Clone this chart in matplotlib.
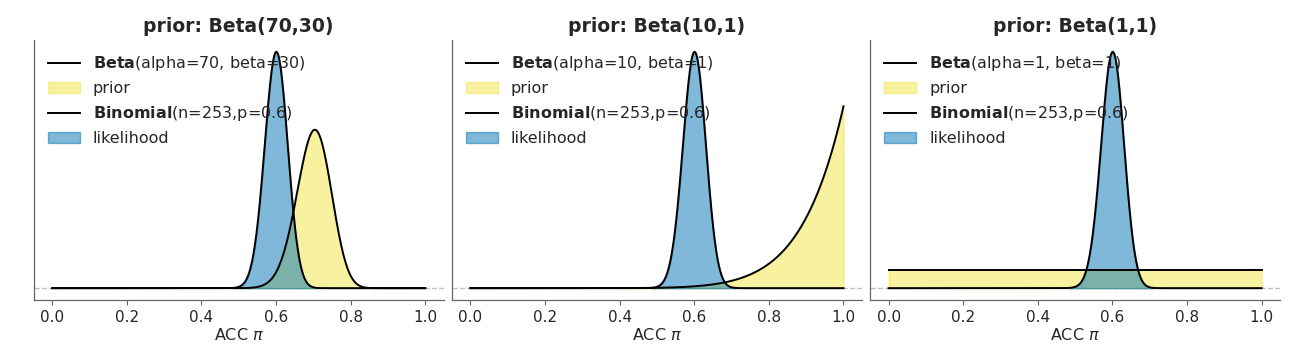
import math

import matplotlib
matplotlib.use("Agg")
import matplotlib.pyplot as plt
import numpy as np

# priors shown in the three panels
prior_alpha = [70, 10, 1]
prior_beta = [30, 1, 1]
titles = ["prior: Beta(70,30)", "prior: Beta(10,1)", "prior: Beta(1,1)"]

# binomial likelihood
n_trials = 253
p_success = 0.6

x_ticks = [0.0, 0.2, 0.4, 0.6, 0.8, 1.0]
x_label = r"ACC $\pi$"

PRIOR_COLOR = "#F0E442"
LIK_COLOR = "#0072B2"
TEXT_COLOR = "#262626"


def beta_pdf(x, a, b):
    x = np.asarray(x, dtype=float)
    logc = math.lgamma(a + b) - math.lgamma(a) - math.lgamma(b)
    with np.errstate(divide="ignore", invalid="ignore"):
        y = np.exp(logc + (a - 1) * np.log(x) + (b - 1) * np.log1p(-x))
    if a == 1:
        y = np.where(x == 0, np.exp(logc + (b - 1) * np.log1p(-x)), y)
    if b == 1:
        y = np.where(x == 1, np.exp(logc + (a - 1) * np.log(np.where(x == 0, 1, x))), y)
    return np.nan_to_num(y)


def beta_ppf(q, a, b):
    # numeric inverse cdf on a fine grid
    grid = np.linspace(0, 1, 200001)
    pdf = beta_pdf(grid, a, b)
    cdf = np.cumsum(pdf)
    cdf = cdf / cdf[-1]
    return float(np.interp(q, cdf, grid))


plt.rcParams["font.family"] = ["DejaVu Sans"]
plt.rcParams["text.color"] = TEXT_COLOR
plt.rcParams["axes.labelcolor"] = TEXT_COLOR
plt.rcParams["xtick.color"] = "0.4"
plt.rcParams["xtick.labelcolor"] = TEXT_COLOR

fig, axes = plt.subplots(1, 3, figsize=(12.9, 3.48), dpi=100, sharey=False)
fig.subplots_adjust(left=0.026, right=0.9925, top=0.885, bottom=0.138, wspace=0.019)

x = np.linspace(0, 1, 1000)
k = round(n_trials * p_success)
lik_a, lik_b = k + 1, n_trials - k + 1

for ax, a, b, title in zip(axes, prior_alpha, prior_beta, titles):
    # prior
    y_prior = beta_pdf(x, a, b)
    ax.plot(x, y_prior, color="black", lw=1.4,
            label=r"$\bf{Beta}$" + "(alpha={}, beta={})".format(a, b))
    lo, hi = beta_ppf(1e-4, a, b), beta_ppf(1 - 1e-4, a, b)
    xf = np.linspace(lo, hi, 600)
    ax.fill_between(xf, beta_pdf(xf, a, b), color=PRIOR_COLOR, alpha=0.5, label="prior")

    # likelihood
    y_lik = beta_pdf(x, lik_a, lik_b)
    ax.plot(x, y_lik, color="black", lw=1.4,
            label=r"$\bf{Binomial}$" + "(n={},p={})".format(n_trials, p_success))
    lo, hi = beta_ppf(1e-4, lik_a, lik_b), beta_ppf(1 - 1e-4, lik_a, lik_b)
    xf = np.linspace(lo, hi, 600)
    ax.fill_between(xf, beta_pdf(xf, lik_a, lik_b), color=LIK_COLOR, alpha=0.5, label="likelihood")

    ax.axhline(0, color="0.75", lw=1, ls="--", zorder=0)
    ax.set_xlim(-0.05, 1.05)
    ax.set_xticks(x_ticks)
    ax.set_yticks([])
    ax.tick_params(axis="x", labelsize=11, length=3.5, width=0.8)
    ax.set_xlabel(x_label, fontsize=11.5, labelpad=2)
    ax.set_title(title, fontsize=13.5, fontweight="bold", pad=6)
    for side in ["top", "right"]:
        ax.spines[side].set_visible(False)
    for side in ["left", "bottom"]:
        ax.spines[side].set_color("0.4")
        ax.spines[side].set_linewidth(0.9)
    ax.legend(loc="upper left", frameon=False, fontsize=11.5, handlelength=2.0)

fig.savefig("out.png", dpi=100)
